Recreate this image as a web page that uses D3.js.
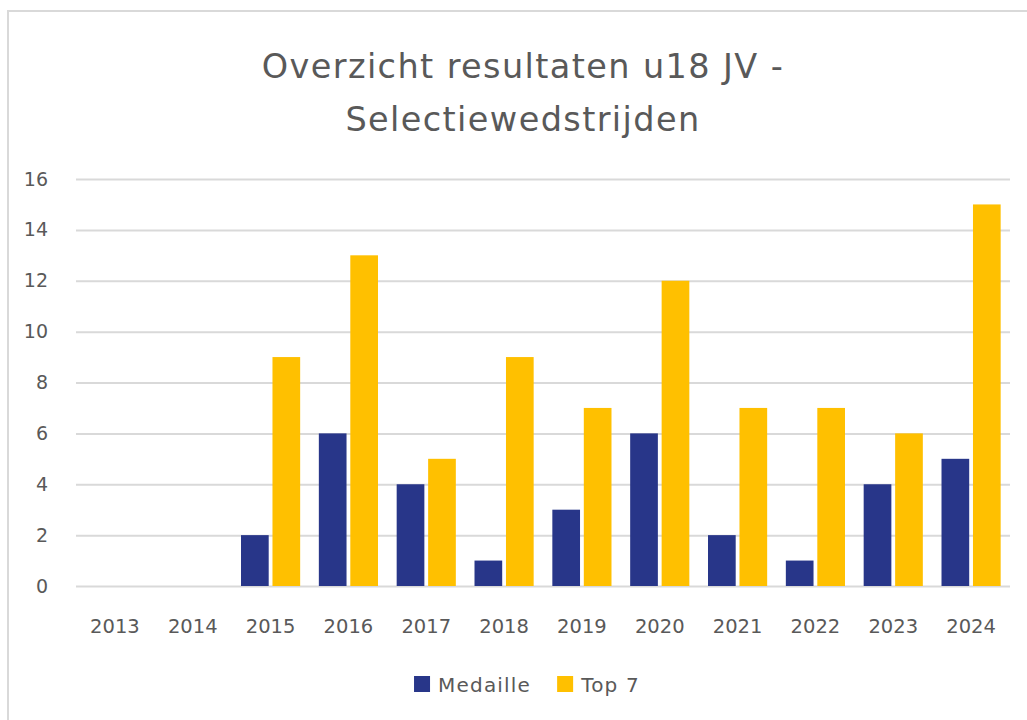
<!DOCTYPE html>
<html>
<head>
<meta charset="utf-8">
<script src="https://cdn.jsdelivr.net/npm/d3@7/dist/d3.min.js"></script>
<style>
  html, body { margin: 0; padding: 0; background: #ffffff; }
  svg { display: block; font-family: "DejaVu Sans", sans-serif; }
</style>
</head>
<body>
<svg id="chart" width="1027" height="720"></svg>
<script>
// Yearly results of the u18 JV selection competitions
const years = ["2013", "2014", "2015", "2016", "2017", "2018", "2019", "2020", "2021", "2022", "2023", "2024"];
const medaille = [0, 0, 2, 6, 4, 1, 3, 6, 2, 1, 4, 5];
const top7 = [0, 0, 9, 13, 5, 9, 7, 12, 7, 7, 6, 15];
const seriesNames = ["Medaille", "Top 7"];
const seriesColors = ["#283689", "#FFC000"];
const yTicks = [0, 2, 4, 6, 8, 10, 12, 14, 16];
const titleLines = ["Overzicht resultaten u18 JV -", "Selectiewedstrijden"];

const rows = years.map((yr, i) => ({ year: yr, values: [medaille[i], top7[i]] }));

const svg = d3.select("#chart");
const textColor = "#595959";
const gridColor = "#d9d9d9";

// card outline
svg.append("rect")
  .attr("x", 8).attr("y", 11)
  .attr("width", 1040).attr("height", 730)
  .attr("fill", "#ffffff")
  .attr("stroke", gridColor).attr("stroke-width", 2);

// title
svg.append("g").selectAll("text")
  .data(titleLines)
  .join("text")
  .attr("x", 523)
  .attr("y", (d, i) => 78 + i * 53)
  .attr("text-anchor", "middle")
  .attr("fill", textColor)
  .style("font-size", "33.5px")
  .style("letter-spacing", "1.4px")
  .text(d => d);

const plot = { left: 76, right: 1010, top: 179, bottom: 586 };

const x0 = d3.scaleBand()
  .domain(years)
  .range([plot.left, plot.right])
  .paddingInner(0.24)
  .paddingOuter(0.12);

const x1 = d3.scaleBand()
  .domain(seriesNames)
  .range([0, x0.bandwidth()])
  .paddingInner(0.12);

const y = d3.scaleLinear()
  .domain([0, 16])
  .range([plot.bottom, plot.top]);

const color = d3.scaleOrdinal().domain(seriesNames).range(seriesColors);

// horizontal gridlines
const yAxis = d3.axisLeft(y)
  .tickValues(yTicks)
  .tickSize(-(plot.right - plot.left))
  .tickPadding(28);

const gy = svg.append("g")
  .attr("transform", `translate(${plot.left},0)`)
  .call(yAxis);
gy.select(".domain").remove();
gy.selectAll(".tick line").attr("stroke", gridColor).attr("stroke-width", 2);
gy.selectAll(".tick text")
  .attr("fill", textColor)
  .style("font-size", "19px")
  .style("font-family", "\"DejaVu Sans\", sans-serif");

// bars
const groups = svg.append("g").selectAll("g")
  .data(rows)
  .join("g")
  .attr("transform", d => `translate(${x0(d.year)},0)`);

groups.selectAll("rect")
  .data(d => d.values.map((v, i) => ({ key: seriesNames[i], value: v })).filter(d => d.value > 0))
  .join("rect")
  .attr("x", d => x1(d.key))
  .attr("y", d => y(d.value))
  .attr("width", x1.bandwidth())
  .attr("height", d => y(0) - y(d.value))
  .attr("fill", d => color(d.key));

// category axis
const xAxis = d3.axisBottom(x0).tickSize(0).tickPadding(33);
const gx = svg.append("g")
  .attr("transform", `translate(0,${plot.bottom})`)
  .call(xAxis);
gx.select(".domain").remove();
gx.selectAll(".tick text")
  .attr("fill", textColor)
  .style("font-size", "19.5px")
  .style("font-family", "\"DejaVu Sans\", sans-serif");

// legend
const legend = svg.append("g");
const items = legend.selectAll("g")
  .data(seriesNames)
  .join("g");
items.append("rect")
  .attr("width", 16).attr("height", 16)
  .attr("y", -16)
  .attr("fill", d => color(d));
items.append("text")
  .attr("x", 24)
  .attr("y", 0)
  .attr("fill", textColor)
  .style("font-size", "20px")
  .style("letter-spacing", "1.2px")
  .text(d => d);

let offset = 0;
const positions = [];
items.each(function () {
  positions.push(offset);
  offset += this.getBBox().width + 26;
});
const totalWidth = offset - 26;
const legendStart = 527 - totalWidth / 2;
items.attr("transform", (d, i) => `translate(${legendStart + positions[i]},692)`);
</script>
</body>
</html>
